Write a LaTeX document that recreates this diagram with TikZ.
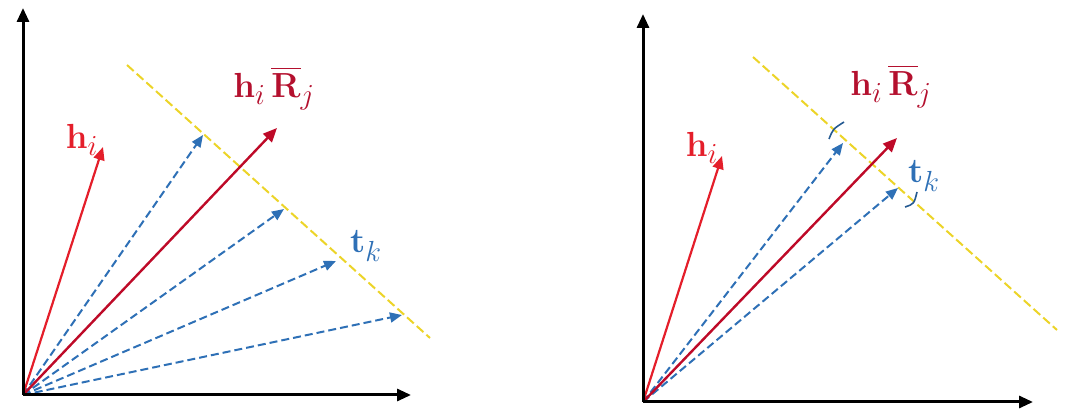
\documentclass[tikz,border=0pt]{standalone}
\usepackage{graphicx}
\usepackage{amsmath}
\usetikzlibrary{arrows.meta}
\definecolor{hred}{RGB}{228,30,42}
\definecolor{rred}{RGB}{190,10,40}
\definecolor{lblred}{RGB}{180,16,46}
\definecolor{tblue}{RGB}{46,112,182}
\definecolor{yel}{RGB}{236,212,40}
\newcommand{\biglbl}[1]{\scalebox{1.4}{\Huge$#1$}}
\tikzset{
  axis/.style={line width=3pt,-{Triangle[length=14pt,width=12pt]}},
  hvec/.style={hred,line width=2.2pt,-{Triangle[length=13pt,width=11pt]}},
  rvec/.style={rred,line width=2.4pt,-{Triangle[length=14pt,width=12pt]}},
  tvec/.style={tblue,line width=2pt,dash pattern=on 8pt off 4pt,-{Triangle[length=12pt,width=10pt]}},
  yline/.style={yel,line width=2pt,dash pattern=on 9pt off 4pt},
  lbl/.style={inner sep=0pt},
  tick/.style={tblue!80!black,line width=1.6pt}
}
\begin{document}
\begin{tikzpicture}[x=1pt,y=-1pt]
\useasboundingbox (0,0) rectangle (1071,419);
% ---------- left panel ----------
\coordinate (O1) at (23,395);
\coordinate (Y1) at (23,8);
\coordinate (X1) at (411,395);
\coordinate (H1) at (103,147);
\coordinate (R1) at (277,128);
\coordinate (T1a) at (203,135);
\coordinate (T1b) at (284,209);
\coordinate (T1c) at (336,261);
\coordinate (T1d) at (402,315);
\coordinate (Ya) at (127,65);
\coordinate (Yb) at (430,338);
\draw[yline] (Ya) -- (Yb);
\draw[tvec] (O1) -- (T1a);
\draw[tvec] (O1) -- (T1b);
\draw[tvec] (O1) -- (T1c);
\draw[tvec] (O1) -- (T1d);
\draw[hvec] (O1) -- (H1);
\draw[rvec] (O1) -- (R1);
\draw[axis] (O1) -- (Y1);
\draw[axis] (O1) -- (X1);
\node[lbl,text=hred] (lh1) at (82,140) {\biglbl{\mathbf{h}_i}};
\node[lbl,text=lblred] (lr1) at (274,88) {\biglbl{\mathbf{h}_i\,\overline{\mathbf{R}}_j}};
\node[lbl,text=tblue] (lt1) at (366,246) {\biglbl{\mathbf{t}_k}};
% ---------- right panel ----------
\coordinate (O2) at (643,402);
\coordinate (Y2) at (643,14);
\coordinate (X2) at (1033,402);
\coordinate (H2) at (722,156);
\coordinate (R2) at (897,138);
\coordinate (T2a) at (843,143);
\coordinate (T2b) at (898,188);
\coordinate (Yc) at (753,57);
\coordinate (Yd) at (1057,330);
\draw[yline] (Yc) -- (Yd);
\draw[tvec] (O2) -- (T2a);
\draw[tvec] (O2) -- (T2b);
\draw[hvec] (O2) -- (H2);
\draw[rvec] (O2) -- (R2);
\draw[axis] (O2) -- (Y2);
\draw[axis] (O2) -- (X2);
\coordinate (k1a) at (829,139);
\coordinate (k1b) at (844,122);
\coordinate (k2a) at (905,207);
\coordinate (k2b) at (917,192);
\draw[tick] (k1a) .. controls (833,129) .. (k1b);
\draw[tick] (k2a) .. controls (914,204) .. (k2b);
\node[lbl,text=hred] (lh2) at (702,148) {\biglbl{\mathbf{h}_i}};
\node[lbl,text=lblred] (lr2) at (891,86) {\biglbl{\mathbf{h}_i\,\overline{\mathbf{R}}_j}};
\node[lbl,text=tblue] (lt2) at (924,176) {\biglbl{\mathbf{t}_k}};
\end{tikzpicture}
\end{document}
